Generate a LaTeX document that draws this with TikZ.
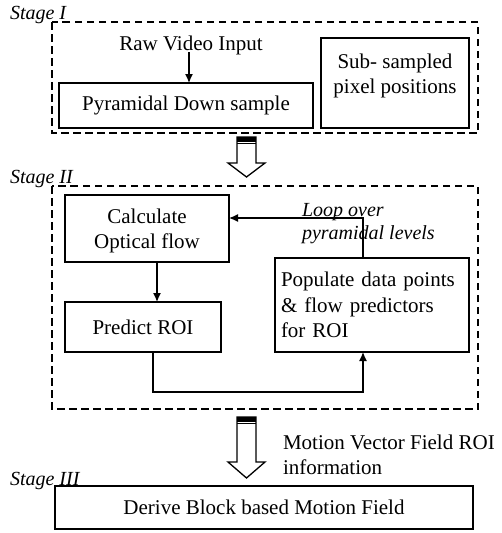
\documentclass[tikz,border=0pt]{standalone}
\usepackage{fontspec}
\setmainfont{Liberation Serif}
\usetikzlibrary{arrows.meta}
\begin{document}
\begin{tikzpicture}[x=1pt,y=-1pt,
  every node/.style={inner sep=0pt, outer sep=0pt},
  txt/.style={font=\fontsize{21}{25.5}\selectfont, align=center},
  itl/.style={font=\fontsize{20}{23}\selectfont\itshape, align=left},
  stagelbl/.style={font=\fontsize{20}{23}\selectfont\itshape, anchor=base west},
  boxd/.style={draw, line width=1.5pt},
  stagebox/.style={draw, line width=1.3pt, dash pattern=on 7.5pt off 4.5pt},
  conn/.style={line width=1.3pt, -{Latex[length=9pt,width=8pt]}},
  blockarrow/.style={draw, line width=1.3pt, fill=white, line join=miter}
]
\useasboundingbox (0,0) rectangle (501,533);
% Stage I
\node[stagelbl] (s1) at (10,19) {Stage I};
\draw[stagebox] (52,22) rectangle (478,133);
\node[txt] (raw) at (191,45) {Raw Video Input};
\node[boxd, minimum width=254pt, minimum height=45pt, txt] (pyr) at (186,105.5) {Pyramidal Down sample};
\node[boxd, minimum width=148pt, minimum height=90pt] (sub) at (395,83) {};
\node[txt] (subt) at (395,76) {Sub- sampled\\pixel positions};
\draw[conn] (189,52) -- (pyr.north -| 189,0);
% block arrow 1
\draw[blockarrow] (237,137) -- (256,137) -- (256,163) -- (265,163) -- (246.5,177) -- (228,163) -- (237,163) -- cycle;
\fill (237,137) rectangle (256,141.5);
\draw[line width=1pt] (237,143.5) -- (256,143.5);
% Stage II
\node[stagelbl] (s2) at (10,183) {Stage II};
\draw[stagebox] (52,186) rectangle (478,409);
\node[boxd, minimum width=164pt, minimum height=67pt] (cof) at (147,228.5) {};
\node[txt] (coft) at (147,231) {Calculate\\Optical flow};
\node[boxd, minimum width=156pt, minimum height=50pt, txt] (roi) at (143,327) {Predict ROI};
\node[boxd, minimum width=194pt, minimum height=94pt, txt, align=left, text width=182pt] (pop) at (372,305) {Populate data points\\\& flow predictors\\for ROI};
\draw[conn] (157,262) -- (roi.north -| 157,0);
\draw[conn] (pop.north -| 363,0) -- (363,218) -- (cof.east |- 0,218);
\draw[conn] (153,352) -- (153,392) -- (363,392) -- (pop.south -| 363,0);
\node[itl, anchor=west] (loop) at (302,224) {Loop over\\pyramidal levels};
% block arrow 2
\draw[blockarrow] (237,417) -- (256,417) -- (256,462) -- (265,462) -- (246.5,478) -- (228,462) -- (237,462) -- cycle;
\fill (237,417) rectangle (256,421.5);
\draw[line width=1pt] (237,423.5) -- (256,423.5);
\node[txt, align=left, anchor=west] (mvf) at (283,455) {Motion Vector Field ROI\\information};
% Stage III
\node[stagelbl] (s3) at (10,485) {Stage III};
\node[boxd, minimum width=418pt, minimum height=43pt, txt] (der) at (264,507.5) {Derive Block based Motion Field};
\end{tikzpicture}
\end{document}
